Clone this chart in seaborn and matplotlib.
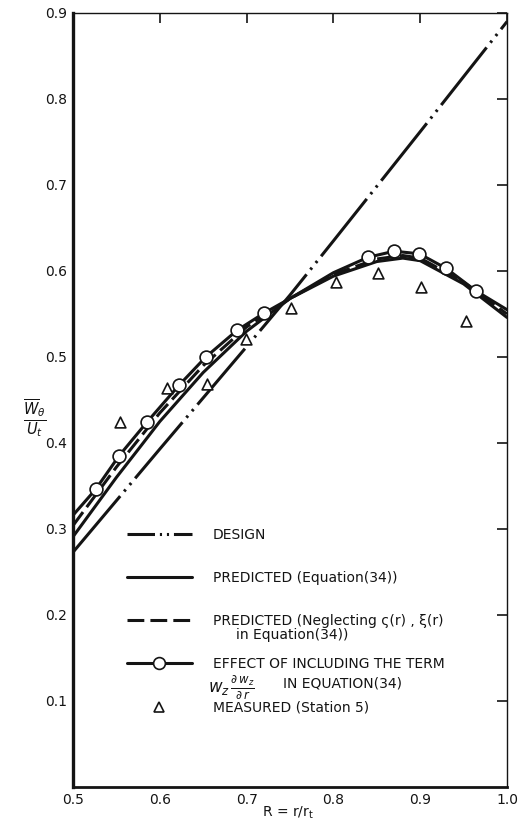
import matplotlib
matplotlib.use("Agg")
import matplotlib.pyplot as plt
from matplotlib.lines import Line2D
import seaborn as sns

# values (R = r/r_t, W = mean W_theta / U_t)
design_R = [0.50, 0.60, 0.70, 0.75, 0.80, 0.90, 1.00]
design_W = [0.273, 0.393, 0.512, 0.572, 0.635, 0.762, 0.890]

pred_R = [0.50, 0.55, 0.577, 0.60, 0.65, 0.70, 0.75, 0.80, 0.85, 0.88, 0.90, 0.95, 1.00]
pred_W = [0.291, 0.360, 0.395, 0.425, 0.482, 0.530, 0.568, 0.594, 0.611, 0.615, 0.612, 0.585, 0.546]

negl_R = [0.50, 0.55, 0.60, 0.65, 0.70, 0.75, 0.80, 0.85, 0.88, 0.90, 0.95, 1.00]
negl_W = [0.304, 0.372, 0.435, 0.490, 0.535, 0.568, 0.596, 0.614, 0.618, 0.615, 0.587, 0.550]

effect_R = [0.50, 0.526, 0.553, 0.585, 0.622, 0.653, 0.689, 0.720, 0.75, 0.80,
            0.84, 0.87, 0.899, 0.93, 0.964, 1.00]
effect_W = [0.316, 0.346, 0.385, 0.424, 0.467, 0.500, 0.531, 0.551, 0.568, 0.598,
            0.616, 0.623, 0.620, 0.603, 0.577, 0.555]

circle_R = [0.526, 0.553, 0.585, 0.622, 0.653, 0.689, 0.720, 0.84, 0.87, 0.899, 0.93, 0.964]
circle_W = [0.346, 0.385, 0.424, 0.467, 0.500, 0.531, 0.551, 0.616, 0.623, 0.620, 0.603, 0.577]

meas_R = [0.554, 0.608, 0.654, 0.699, 0.751, 0.803, 0.851, 0.901, 0.953]
meas_W = [0.424, 0.464, 0.469, 0.521, 0.557, 0.587, 0.598, 0.581, 0.542]

x_ticks = [0.5, 0.6, 0.7, 0.8, 0.9, 1.0]
y_ticks = [0.1, 0.2, 0.3, 0.4, 0.5, 0.6, 0.7, 0.8, 0.9]

sns.set_theme(style="white")
plt.rcParams["font.family"] = ["DejaVu Sans"]
plt.rcParams["mathtext.fontset"] = "dejavusans"

ink = "#141414"
lw = 2.2
design_ls = (0, (24, 2, 0.8, 2, 0.8, 2))
design_key_ls = (0, (9, 1.6, 0.7, 1.6, 0.7, 1.6))  # shorter repeat so the key shows the dots
negl_ls = (0, (5.5, 2))
fs = 10

fig = plt.figure(figsize=(5.28, 8.23), dpi=100)
ax = fig.add_axes([73 / 528, 36 / 823, 434 / 528, 774 / 823])

sns.lineplot(x=design_R, y=design_W, ax=ax, color=ink, lw=lw, linestyle=design_ls,
             sort=False, estimator=None)
sns.lineplot(x=pred_R, y=pred_W, ax=ax, color=ink, lw=lw, sort=False, estimator=None)
sns.lineplot(x=negl_R, y=negl_W, ax=ax, color=ink, lw=lw, linestyle=negl_ls,
             sort=False, estimator=None)
sns.lineplot(x=effect_R, y=effect_W, ax=ax, color=ink, lw=lw, sort=False, estimator=None)
sns.scatterplot(x=circle_R, y=circle_W, ax=ax, marker="o", s=85, color="white",
                edgecolor=ink, linewidth=1.2, zorder=5)
sns.scatterplot(x=meas_R, y=meas_W, ax=ax, marker="^", s=60, color="white",
                edgecolor=ink, linewidth=1.2, zorder=5)

ax.set_xlim(0.5, 1.0)
ax.set_ylim(0.0, 0.9)
ax.set_xticks(x_ticks)
ax.set_xticklabels([f"{v:.1f}" for v in x_ticks])
ax.set_yticks(y_ticks)
ax.set_yticklabels([f"{v:.1f}" for v in y_ticks])
ax.tick_params(direction="in", length=7, width=1.2, top=True, right=True,
               labelsize=10, colors=ink, pad=4)
for side, w in [("left", 2.4), ("bottom", 2.0), ("top", 1.0), ("right", 1.0)]:
    ax.spines[side].set_linewidth(w)
    ax.spines[side].set_color(ink)
ax.set_xlabel("")
ax.set_ylabel("")

# legend, laid out as in the original figure
handles = [
    Line2D([], [], color=ink, lw=lw, linestyle=design_key_ls),
    Line2D([], [], color=ink, lw=lw),
    Line2D([], [], color=ink, lw=lw, linestyle=negl_ls),
    Line2D([], [], color=ink, lw=lw, marker="o", markersize=8.5,
           markerfacecolor="white", markeredgecolor=ink, markeredgewidth=1.2),
    Line2D([], [], color=ink, lw=0, marker="^", markersize=7.5,
           markerfacecolor="white", markeredgecolor=ink, markeredgewidth=1.2),
]
labels = [
    "DESIGN",
    "PREDICTED (Equation(34))",
    "PREDICTED (Neglecting ς(r) , ξ(r)",
    "EFFECT OF INCLUDING THE TERM",
    "MEASURED (Station 5)",
]
ax.legend(handles, labels, loc="upper left", bbox_to_anchor=(0.124, 0.335),
          frameon=False, fontsize=fs, handlelength=4.7, handletextpad=1.5,
          labelspacing=2.1, borderpad=0, borderaxespad=0, labelcolor=ink)

ax.text(0.376, 0.196, "in Equation(34))", transform=ax.transAxes, fontsize=fs,
        color=ink, va="center", ha="left")
ax.text(0.312, 0.129, r"$w_z\,\frac{\partial\, w_z}{\partial\, r}$", transform=ax.transAxes,
        fontsize=12, color=ink, va="center", ha="left")
ax.text(0.484, 0.134, "IN EQUATION(34)", transform=ax.transAxes, fontsize=fs,
        color=ink, va="center", ha="left")

fig.text(0.066, 0.492, r"$\frac{\overline{W}_{\theta}}{U_{t}}$", fontsize=15,
         color=ink, ha="center", va="center")
fig.text(0.545, 0.013, r"R = r/r$_{\rm t}$", fontsize=10, color=ink,
         ha="center", va="center")

fig.savefig("out.png", dpi=100)
